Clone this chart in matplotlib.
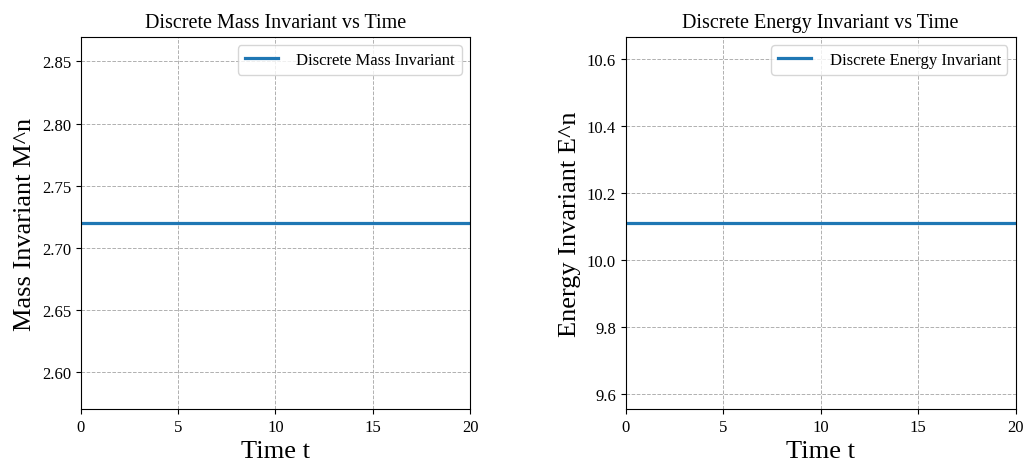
import matplotlib
matplotlib.use('Agg')
import matplotlib.pyplot as plt

# 字体设置 (Times New Roman 风格)
plt.rcParams['font.family'] = ['Liberation Serif', 'DejaVu Serif']
plt.rcParams['mathtext.fontset'] = 'stix'

# 数据
time_t = [0, 5, 10, 15, 20]
mass_invariant = [2.72, 2.72, 2.72, 2.72, 2.72]
energy_invariant = [10.11, 10.11, 10.11, 10.11, 10.11]

fig = plt.figure(figsize=(10.24, 4.64), dpi=100)
ax1 = fig.add_axes([0.079, 0.116, 0.380, 0.802])
ax2 = fig.add_axes([0.611, 0.116, 0.381, 0.802])

panels = [
    (ax1, mass_invariant, 'Discrete Mass Invariant', 'Mass Invariant M^n', 'Discrete Mass Invariant vs Time'),
    (ax2, energy_invariant, 'Discrete Energy Invariant', 'Energy Invariant E^n', 'Discrete Energy Invariant vs Time'),
]

for ax, values, label, ylabel, title in panels:
    ax.plot(time_t, values, color='#1f77b4', linewidth=2.3, label=label)
    ax.set_xlim(0, 20)
    ax.set_xticks([0, 5, 10, 15, 20])
    ax.set_xlabel('Time t', fontsize=19)
    ax.set_ylabel(ylabel, fontsize=19)
    ax.set_title(title, fontsize=14.5, pad=7)
    ax.tick_params(labelsize=12)
    ax.grid(True, linestyle='--', linewidth=0.7, color='#b0b0b0')
    ax.legend(loc='upper right', fontsize=12, handletextpad=1.1)

fig.savefig('out.png', dpi=100)
